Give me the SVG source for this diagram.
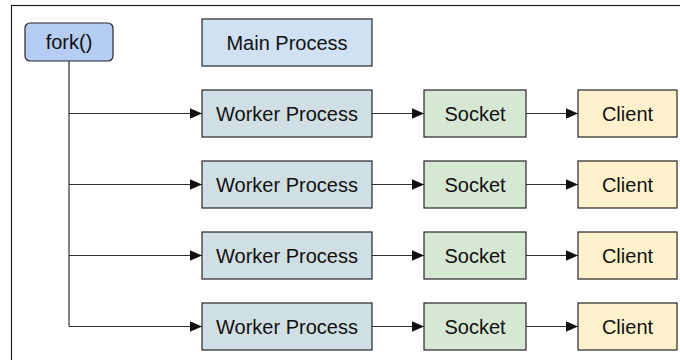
<svg xmlns="http://www.w3.org/2000/svg" width="680" height="360" viewBox="0 0 680 360">
<defs>
<style>
.box{stroke:#262626;stroke-width:1.2}
.fork{fill:#b5cdf3}
.main{fill:#cfe1f2}
.worker{fill:#d0dfe3}
.socket{fill:#d6e8d4}
.client{fill:#fff1cb}
text{font-family:"Liberation Sans",Arial,sans-serif;font-size:20px;fill:#111;text-anchor:middle}
.conn{fill:none;stroke:#333;stroke-width:1.2}
</style>
<marker id="arr" viewBox="0 0 12 12" refX="12" refY="6" markerWidth="12" markerHeight="12" markerUnits="userSpaceOnUse" orient="auto">
<path d="M0,0.8 L12,6 L0,11.2 Z" fill="#111"/>
</marker>
</defs>
<rect x="0" y="0" width="680" height="360" fill="#fff"/>
<rect x="11.5" y="5.5" width="700" height="400" fill="none" stroke="#222" stroke-width="1.2"/>

<g id="connectors">
<path class="conn" d="M69,61 V326.5"/>
<path class="conn" d="M69,113.5 H202" marker-end="url(#arr)"/>
<path class="conn" d="M69,184.5 H202" marker-end="url(#arr)"/>
<path class="conn" d="M69,255.5 H202" marker-end="url(#arr)"/>
<path class="conn" d="M69,326.5 H202" marker-end="url(#arr)"/>
<path class="conn" d="M372,113.5 H424" marker-end="url(#arr)"/>
<path class="conn" d="M372,184.5 H424" marker-end="url(#arr)"/>
<path class="conn" d="M372,255.5 H424" marker-end="url(#arr)"/>
<path class="conn" d="M372,326.5 H424" marker-end="url(#arr)"/>
<path class="conn" d="M526,113.5 H578" marker-end="url(#arr)"/>
<path class="conn" d="M526,184.5 H578" marker-end="url(#arr)"/>
<path class="conn" d="M526,255.5 H578" marker-end="url(#arr)"/>
<path class="conn" d="M526,326.5 H578" marker-end="url(#arr)"/>
</g>

<g id="fork"><rect class="box fork" x="25" y="23" width="88" height="38" rx="5"/><text x="69" y="49">fork()</text></g>
<g id="main"><rect class="box main" x="202" y="19" width="170" height="47"/><text x="287" y="49.5">Main Process</text></g>

<g id="worker1"><rect class="box worker" x="202" y="90" width="170" height="47"/><text x="287" y="120.5">Worker Process</text></g>
<g id="socket1"><rect class="box socket" x="424" y="90" width="102" height="47"/><text x="475" y="120.5">Socket</text></g>
<g id="client1"><rect class="box client" x="578" y="90" width="99" height="47"/><text x="627.5" y="120.5">Client</text></g>

<g id="worker2"><rect class="box worker" x="202" y="161" width="170" height="47"/><text x="287" y="191.5">Worker Process</text></g>
<g id="socket2"><rect class="box socket" x="424" y="161" width="102" height="47"/><text x="475" y="191.5">Socket</text></g>
<g id="client2"><rect class="box client" x="578" y="161" width="99" height="47"/><text x="627.5" y="191.5">Client</text></g>

<g id="worker3"><rect class="box worker" x="202" y="232" width="170" height="47"/><text x="287" y="262.5">Worker Process</text></g>
<g id="socket3"><rect class="box socket" x="424" y="232" width="102" height="47"/><text x="475" y="262.5">Socket</text></g>
<g id="client3"><rect class="box client" x="578" y="232" width="99" height="47"/><text x="627.5" y="262.5">Client</text></g>

<g id="worker4"><rect class="box worker" x="202" y="303" width="170" height="47"/><text x="287" y="333.5">Worker Process</text></g>
<g id="socket4"><rect class="box socket" x="424" y="303" width="102" height="47"/><text x="475" y="333.5">Socket</text></g>
<g id="client4"><rect class="box client" x="578" y="303" width="99" height="47"/><text x="627.5" y="333.5">Client</text></g>
</svg>
